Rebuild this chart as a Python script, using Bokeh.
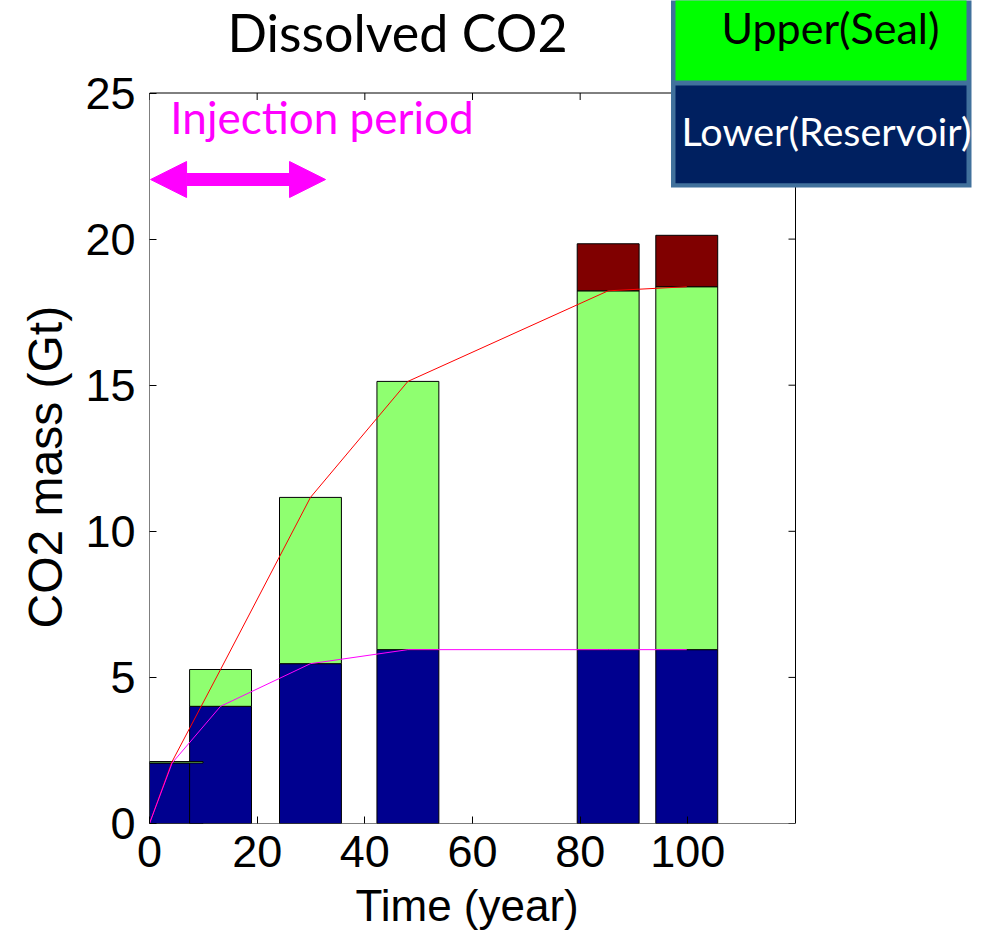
from bokeh.plotting import figure
from bokeh.models import (Range1d, FixedTicker, Label, BoxAnnotation, Title,
                          Arrow, NormalHead, ColumnDataSource)
from bokeh.embed import file_html
from bokeh.resources import INLINE

# ---- data ----
time_points = [4.2, 13.2, 29.9, 48.0, 85.2, 99.8]          # year
lower_reservoir = [2.07, 4.01, 5.47, 5.95, 5.95, 5.95]      # Gt
upper_seal = [0.05, 1.26, 5.69, 9.18, 12.28, 12.42]         # Gt
other_part = [0.0, 0.0, 0.0, 0.0, 1.61, 1.76]               # Gt (dark red)
x_ticks = [0, 20, 40, 60, 80, 100]
y_ticks = [0, 5, 10, 15, 20, 25]
x_max, y_max = 120, 25
injection_start, injection_end = 0.0, 33.0
legend_labels = ["Upper(Seal)", "Lower(Reservoir)"]
title_text = "Dissolved CO2"

BAR_W = 11.5
W, H = 987, 943
LEFT, BOTTOM = 149, 120              # canvas borders
BOX_RIGHT_PX, BOX_TOP_PX = 795, 92.5 # where the axes box ends on the canvas

# The frame reaches the top and right edge of the canvas so that the
# legend and title (which spill over the axes box) are not clipped.
frame_w = W - LEFT
frame_h = H - BOTTOM
x_end = x_max * frame_w / (BOX_RIGHT_PX - LEFT)
y_end = y_max * frame_h / (frame_h - BOX_TOP_PX)
px_x = frame_w / x_end
px_y = frame_h / y_end

def sx(px):   # canvas px -> data x (for annotations only)
    return (px - LEFT) / px_x

def sy(py):   # canvas px (from top) -> data y (for annotations only)
    return (frame_h - py) / px_y

seal_top = [l + u for l, u in zip(lower_reservoir, upper_seal)]
other_top = [s + o for s, o in zip(seal_top, other_part)]

p = figure(width=W, height=H, output_backend="svg", toolbar_location=None,
           x_range=Range1d(0, x_end), y_range=Range1d(0, y_end),
           min_border_left=LEFT, min_border_right=0, min_border_top=0, min_border_bottom=BOTTOM)
p.background_fill_color = "white"
p.border_fill_color = "white"
p.grid.visible = False
p.outline_line_color = None

AX_FONT = "Liberation Sans"
for ax in (p.xaxis[0], p.yaxis[0]):
    ax.major_tick_in = 7
    ax.major_tick_out = 0
    ax.minor_tick_in = 0
    ax.minor_tick_out = 0
    ax.major_label_text_font = AX_FONT
    ax.major_label_text_font_size = "45px"
    ax.major_label_text_color = "black"
    ax.axis_line_color = None
    ax.major_tick_line_color = "black"

p.xaxis[0].ticker = FixedTicker(ticks=x_ticks)
p.xaxis[0].major_label_standoff = 12
p.yaxis[0].ticker = FixedTicker(ticks=y_ticks)
p.yaxis[0].major_label_standoff = 14

# axis titles (placed as side titles so they center on the axes box, not the frame)
p.add_layout(Title(text="Time (year)", align="left", offset=206, vertical_align="top", standoff=22,
                   text_font=AX_FONT, text_font_size="44px", text_font_style="normal",
                   text_color="black"), "below")
p.add_layout(Title(text="CO2 mass (Gt)", align="left", offset=195, vertical_align="bottom", standoff=22,
                   text_font=AX_FONT, text_font_size="48px", text_font_style="normal",
                   text_color="black"), "left")

# ---- stacked bars ----
src = ColumnDataSource(dict(t=time_points, lower=lower_reservoir, seal_top=seal_top))
p.vbar(x="t", width=BAR_W, bottom=0, top="lower", source=src,
       fill_color="#00008F", line_color="black", line_width=1)
p.vbar(x="t", width=BAR_W, bottom="lower", top="seal_top", source=src,
       fill_color="#8FFF70", line_color="black", line_width=1)
idx = [i for i, v in enumerate(other_part) if v > 0]
src_o = ColumnDataSource(dict(t=[time_points[i] for i in idx],
                              b=[seal_top[i] for i in idx],
                              tp=[other_top[i] for i in idx]))
p.vbar(x="t", width=BAR_W, bottom="b", top="tp", source=src_o,
       fill_color="#800000", line_color="black", line_width=1)

# ---- lines ----
line_t = [0.0] + time_points
p.line(line_t, [0.0] + seal_top, line_color="#FF0000", line_width=1)
p.line(line_t, [0.0] + lower_reservoir, line_color="#FF00FF", line_width=1)

# ---- axes box with inward ticks on top and right ----
p.add_layout(BoxAnnotation(left=0, right=x_max, bottom=0, top=y_max,
                           fill_alpha=0, line_color="black", line_alpha=1.0, line_width=1))
tick_len_x = 7 / px_x
tick_len_y = 7 / px_y
p.segment(x0=x_ticks, y0=[y_max] * len(x_ticks), x1=x_ticks, y1=[y_max - tick_len_y] * len(x_ticks),
          line_color="black", line_width=1)
p.segment(x0=[x_max] * len(y_ticks), y0=y_ticks, x1=[x_max - tick_len_x] * len(y_ticks), y1=y_ticks,
          line_color="black", line_width=1)

# ---- injection period arrow and text ----
p.add_layout(Arrow(x_start=injection_start + 0.2, x_end=injection_end - 0.3, y_start=sy(179), y_end=sy(179),
                   line_color="#FF00FF", line_width=13,
                   start=NormalHead(size=36, fill_color="#FF00FF", line_color="#FF00FF"),
                   end=NormalHead(size=36, fill_color="#FF00FF", line_color="#FF00FF")))
p.add_layout(Label(x=sx(321.5), y=sy(116), text="Injection period", text_font="Lato",
                   text_font_size="44px", text_color="#FF00FF",
                   text_align="center", text_baseline="middle"))

# ---- title ----
p.add_layout(Label(x=sx(397), y=sy(31), text=title_text, text_font="Lato",
                   text_font_size="52px", text_color="black",
                   text_align="center", text_baseline="middle"))

# ---- legend box (top right, over the axes box) ----
p.add_layout(BoxAnnotation(left=sx(670.5), right=sx(971), top=sy(-5), bottom=sy(187),
                           fill_color="#41719C", fill_alpha=1.0, line_alpha=0, level="overlay"))
p.add_layout(BoxAnnotation(left=sx(675), right=sx(966), top=sy(-5), bottom=sy(80),
                           fill_color="#00FF00", fill_alpha=1.0, line_alpha=0, level="overlay"))
p.add_layout(BoxAnnotation(left=sx(675), right=sx(966), top=sy(85), bottom=sy(182.7),
                           fill_color="#002060", fill_alpha=1.0, line_alpha=0, level="overlay"))
p.add_layout(Label(x=sx(830), y=sy(27), text=legend_labels[0], text_font="Lato",
                   text_font_size="43px", text_color="black",
                   text_align="center", text_baseline="middle", level="overlay"))
p.add_layout(Label(x=sx(681), y=sy(129.5), text=legend_labels[1], text_font="Lato",
                   text_font_size="39.5px", text_color="white",
                   text_align="left", text_baseline="middle", level="overlay"))

open("out.html", "w").write(file_html(p, INLINE))
